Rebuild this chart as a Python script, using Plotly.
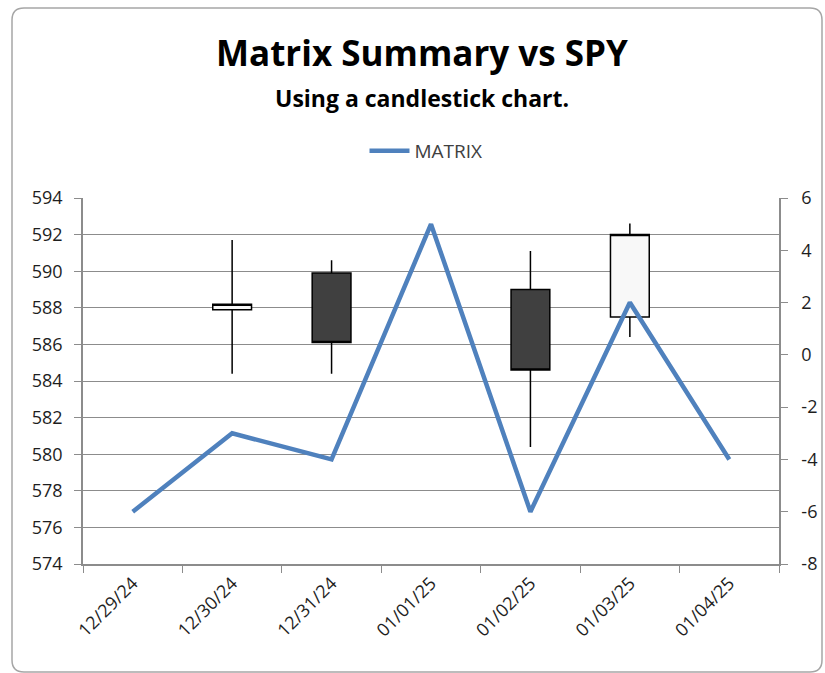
import plotly.graph_objects as go
from plotly.subplots import make_subplots

# ---- data ----
dates = ["12/29/24", "12/30/24", "12/31/24", "01/01/25", "01/02/25", "01/03/25", "01/04/25"]
matrix = [-6, -3, -4, 5, -6, 2, -4]

candle_dates = ["12/30/24", "12/31/24", "01/02/25", "01/03/25"]
spy_open = [587.9, 589.9, 589.0, 587.5]
spy_high = [591.7, 590.6, 591.1, 592.6]
spy_low = [584.4, 584.4, 580.4, 586.4]
spy_close = [588.2, 586.1, 584.6, 592.0]

left_ticks = list(range(574, 595, 2))
right_ticks = list(range(-8, 7, 2))
right_labels = [str(v) for v in right_ticks]

# ---- layout geometry (pixels) ----
W, H = 825, 673
L, R, T, B = 83, 779, 198, 564
PW, PH = R - L, B - T


def px(x):
    return (x - L) / PW


def py(y):
    return (B - y) / PH


FONT = "Open Sans"
GRID = "#8c8c8c"
TXT = "#1e1e1e"
TS = 18

fig = make_subplots(specs=[[{"secondary_y": True}]])

fig.add_trace(
    go.Candlestick(
        x=candle_dates,
        open=spy_open,
        high=spy_high,
        low=spy_low,
        close=spy_close,
        name="SPY",
        showlegend=False,
        increasing=dict(line=dict(color="#000000", width=1.5), fillcolor="#f8f8f8"),
        decreasing=dict(line=dict(color="#000000", width=1.5), fillcolor="#404040"),
        whiskerwidth=0,
    ),
    secondary_y=False,
)

fig.add_trace(
    go.Scatter(
        x=dates,
        y=matrix,
        mode="lines",
        name="MATRIX",
        line=dict(color="#4f81bd", width=4.5),
    ),
    secondary_y=True,
)

# rounded chart border
r = 12
bx0, bx1, by0, by1 = 12, 822, 8, 672
path = (
    f"M {px(bx0)},{py(by0 + r)} "
    f"Q {px(bx0)},{py(by0)} {px(bx0 + r)},{py(by0)} "
    f"L {px(bx1 - r)},{py(by0)} "
    f"Q {px(bx1)},{py(by0)} {px(bx1)},{py(by0 + r)} "
    f"L {px(bx1)},{py(by1 - r)} "
    f"Q {px(bx1)},{py(by1)} {px(bx1 - r)},{py(by1)} "
    f"L {px(bx0 + r)},{py(by1)} "
    f"Q {px(bx0)},{py(by1)} {px(bx0)},{py(by1 - r)} Z"
)

fig.update_layout(
    width=W,
    height=H,
    margin=dict(l=L, r=W - R, t=T, b=H - B, pad=0, autoexpand=False),
    paper_bgcolor="white",
    plot_bgcolor="white",
    font=dict(family=FONT, size=TS, color=TXT),
    boxgap=0.61,
    boxgroupgap=0,
    showlegend=True,
    legend=dict(
        orientation="h",
        x=px(426),
        xanchor="center",
        y=py(151),
        yanchor="middle",
        font=dict(family=FONT, size=19, color="#404040"),
        bgcolor="rgba(0,0,0,0)",
        itemwidth=40,
    ),
    shapes=[
        dict(
            type="path",
            path=path,
            xref="paper",
            yref="paper",
            line=dict(color="#a6a6a6", width=1.5),
            fillcolor="rgba(0,0,0,0)",
            layer="below",
        )
    ],
    annotations=[
        dict(
            text="<b>Matrix Summary vs SPY</b>",
            xref="paper",
            yref="paper",
            x=px(422),
            y=py(52),
            xanchor="center",
            yanchor="middle",
            showarrow=False,
            font=dict(family=FONT, size=35, color="#000000"),
        ),
        dict(
            text="<b>Using a candlestick chart.</b>",
            xref="paper",
            yref="paper",
            x=px(422),
            y=py(98),
            xanchor="center",
            yanchor="middle",
            showarrow=False,
            font=dict(family=FONT, size=23, color="#000000"),
        ),
    ],
)

fig.update_xaxes(
    type="category",
    categoryorder="array",
    categoryarray=dates,
    range=[-0.5, len(dates) - 0.5],
    domain=[0, 1],
    tickvals=dates,
    ticktext=dates,
    tickangle=-45,
    tickson="boundaries",
    ticks="outside",
    ticklen=7,
    tickcolor=GRID,
    showline=True,
    linecolor=GRID,
    linewidth=1.5,
    showgrid=False,
    automargin=False,
    rangeslider=dict(visible=False),
    fixedrange=True,
    tickfont=dict(family=FONT, size=TS, color=TXT),
)

fig.update_yaxes(
    range=[574, 594],
    tickvals=left_ticks,
    ticks="outside",
    ticklen=7,
    tickcolor=GRID,
    showline=True,
    linecolor=GRID,
    linewidth=1.5,
    showgrid=True,
    gridcolor=GRID,
    gridwidth=1.2,
    zeroline=False,
    automargin=False,
    ticklabelstandoff=8,
    tickfont=dict(family=FONT, size=TS, color=TXT),
    secondary_y=False,
)

fig.update_yaxes(
    range=[-8, 6],
    tickvals=right_ticks,
    ticktext=right_labels,
    ticks="outside",
    ticklen=7,
    tickcolor=GRID,
    showline=True,
    linecolor=GRID,
    linewidth=1.5,
    showgrid=False,
    zeroline=False,
    automargin=False,
    ticklabelstandoff=10,
    tickfont=dict(family=FONT, size=TS, color=TXT),
    secondary_y=True,
)

fig.write_html(
    "out.html",
    config={"displayModeBar": False},
    post_script="document.body.style.margin='0px';document.body.style.padding='0px';",
)
